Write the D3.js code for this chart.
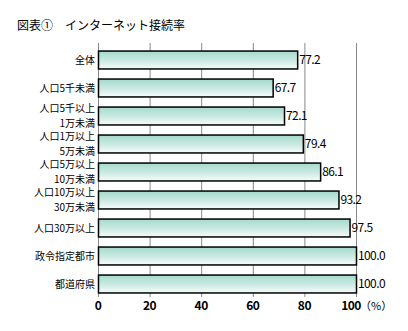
<!DOCTYPE html>
<html>
<head>
<meta charset="utf-8">
<script src="https://cdn.jsdelivr.net/npm/d3@7"></script>
<style>
  html, body { margin: 0; padding: 0; background: #fff; }
  svg { display: block; font-family: "Noto Sans CJK JP", "Noto Sans", sans-serif; }
</style>
</head>
<body>
<svg id="chart" width="408" height="331"></svg>
<script>
// Internet connection rate by municipality size (%)
const categories = [
  ["全体"],
  ["人口5千未満"],
  ["人口5千以上", "1万未満"],
  ["人口1万以上", "5万未満"],
  ["人口5万以上", "10万未満"],
  ["人口10万以上", "30万未満"],
  ["人口30万以上"],
  ["政令指定都市"],
  ["都道府県"]
];
const rates = [77.2, 67.7, 72.1, 79.4, 86.1, 93.2, 97.5, 100.0, 100.0];
const tickValues = [0, 20, 40, 60, 80, 100];
const titleText = "図表①　インターネット接続率";
const unitText = "（%）";

const svg = d3.select("#chart");
const margin = { left: 98, right: 52, top: 46, bottom: 33 };
const W = 408, H = 331;

const x = d3.scaleLinear().domain([0, 100]).range([margin.left, W - margin.right]);
const y = d3.scaleBand()
  .domain(d3.range(categories.length))
  .range([margin.top, H - margin.bottom])
  .paddingInner(0.36)
  .paddingOuter(0.18);

// bar gradient: teal at the top fading to white
const defs = svg.append("defs");
const grad = defs.append("linearGradient")
  .attr("id", "barFill").attr("x1", 0).attr("y1", 0).attr("x2", 0).attr("y2", 1);
grad.append("stop").attr("offset", "0%").attr("stop-color", "#a3dacc");
grad.append("stop").attr("offset", "55%").attr("stop-color", "#cdeae3");
grad.append("stop").attr("offset", "100%").attr("stop-color", "#f7fcfb");

// title
svg.append("text")
  .attr("x", 17).attr("y", 30)
  .attr("font-size", 12)
  .attr("fill", "#000")
  .text(titleText);

// vertical grid lines
const gridTop = margin.top - 3, gridBottom = H - margin.bottom - 1;
svg.append("g").selectAll("line")
  .data(tickValues)
  .join("line")
  .attr("x1", d => x(d) + 0.5).attr("x2", d => x(d) + 0.5)
  .attr("y1", gridTop).attr("y2", gridBottom)
  .attr("stroke", "#888").attr("stroke-width", 1);

// bars
svg.append("g").selectAll("rect")
  .data(rates)
  .join("rect")
  .attr("x", x(0) + 0.5)
  .attr("y", (d, i) => y(i))
  .attr("width", d => x(d) - x(0))
  .attr("height", y.bandwidth())
  .attr("fill", "url(#barFill)")
  .attr("stroke", "#000")
  .attr("stroke-width", 1.5);

// value labels
svg.append("g").selectAll("text")
  .data(rates)
  .join("text")
  .attr("x", d => x(d) + 2)
  .attr("y", (d, i) => y(i) + y.bandwidth() / 2)
  .attr("dy", "0.36em")
  .attr("font-size", 12)
  .attr("letter-spacing", -0.6)
  .attr("fill", "#000")
  .text(d => d.toFixed(1));

// category labels (one or two lines)
const catG = svg.append("g");
categories.forEach((lines, i) => {
  const cy = y(i) + y.bandwidth() / 2;
  const lh = 14.5;
  lines.forEach((ln, k) => {
    catG.append("text")
      .attr("text-anchor", "end")
      .attr("font-size", 10)
      .attr("fill", "#000")
      .attr("x", x(0) - 3)
      .attr("y", cy + (k - (lines.length - 1) / 2) * lh)
      .attr("dy", "0.36em")
      .text(ln);
  });
});

// x axis tick labels
const tickG = svg.append("g");
tickValues.forEach(v => {
  tickG.append("text")
    .attr("x", x(v) - (v === 100 ? 5 : 0))
    .attr("y", 306)
    .attr("dy", "0.36em")
    .attr("text-anchor", "middle")
    .attr("font-size", 12)
    .attr("font-weight", "bold")
    .attr("letter-spacing", -0.5)
    .attr("fill", "#000")
    .text(v);
});
svg.append("text")
  .attr("x", x(100) + 4)
  .attr("y", 306)
  .attr("dy", "0.36em")
  .attr("font-size", 11)
  .attr("fill", "#000")
  .text(unitText);
</script>
</body>
</html>
